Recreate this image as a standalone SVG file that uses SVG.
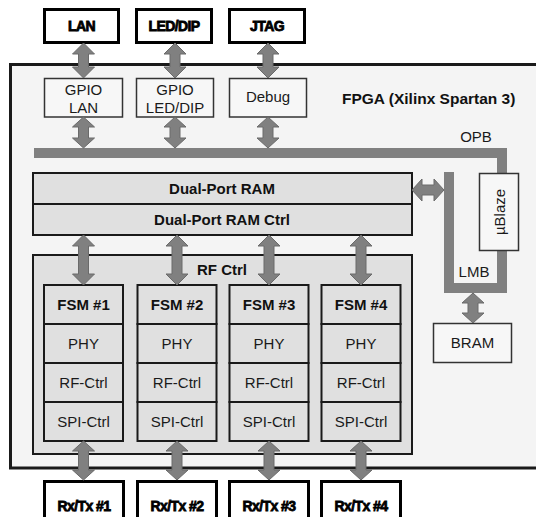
<svg xmlns="http://www.w3.org/2000/svg" width="536" height="517" viewBox="0 0 536 517">
<style>
  .ext {fill:#ffffff; stroke:#000; stroke-width:3}
  .blk {fill:#f7f7f7; stroke:#333; stroke-width:1.5}
  .gray {fill:#e0e0e0; stroke:#1a1a1a; stroke-width:2}
  .arrow {fill:#808080; stroke:#6a6a6a; stroke-width:1}
  .bus {fill:#808080}
  text {font-family:"Liberation Sans", Arial, sans-serif; font-size:15px; fill:#1a1a1a; text-anchor:middle}
  .b {font-weight:bold; fill:#111}
  .heavy {font-weight:bold; font-size:14px; fill:#000; stroke:#000; stroke-width:0.8; letter-spacing:-0.6px}
</style>

<g id="fpga">
  <rect x="10.5" y="64.5" width="540" height="403.5" fill="#f4f4f4" stroke="#1a1a1a" stroke-width="3"/>
  <text class="b" x="342" y="104" style="text-anchor:start;font-size:15.5px">FPGA (Xilinx Spartan 3)</text>
</g>

<g id="buses">
  <path class="bus" d="M34,148 H507 V174 H497 V158 H34 Z"/>
  <path class="bus" d="M497,250 H507 V293 H444 V172 H454 V283 H497 Z"/>
  <text x="476" y="142">OPB</text>
  <text x="474" y="277">LMB</text>
</g>

<g id="lan"><rect class="ext" x="44.5" y="9.5" width="74" height="33"/><text class="heavy" x="81.5" y="31">LAN</text></g>
<g id="leddip"><rect class="ext" x="136.5" y="9.5" width="75" height="33"/><text class="heavy" x="174" y="31">LED/DIP</text></g>
<g id="jtag"><rect class="ext" x="229.5" y="9.5" width="75" height="33"/><text class="heavy" x="267" y="31">JTAG</text></g>

<g id="gpio-lan"><rect class="blk" x="44.5" y="78.5" width="78" height="38.5"/><text x="83.5" y="95">GPIO</text><text x="83.5" y="113">LAN</text></g>
<g id="gpio-leddip"><rect class="blk" x="136.5" y="78.5" width="77" height="38.5"/><text x="175" y="95">GPIO</text><text x="175" y="113">LED/DIP</text></g>
<g id="debug"><rect class="blk" x="229.5" y="78.5" width="77" height="38.5"/><text x="268" y="102">Debug</text></g>

<g id="dpram">
  <rect class="gray" x="33" y="173" width="379" height="31"/>
  <text class="b" x="222" y="194">Dual-Port RAM</text>
</g>
<g id="dpram-ctrl">
  <rect class="gray" x="33" y="204" width="379" height="31"/>
  <text class="b" x="222" y="225">Dual-Port RAM Ctrl</text>
</g>

<g id="ublaze">
  <rect class="blk" x="479.5" y="173.5" width="39" height="77"/>
  <text transform="translate(504.5,212) rotate(-90)" x="0" y="0">µBlaze</text>
</g>
<g id="bram"><rect class="blk" x="433.5" y="323.5" width="78" height="39"/><text x="472.5" y="348">BRAM</text></g>

<g id="rf-ctrl">
  <rect class="gray" x="33" y="255" width="379" height="199"/>
  <text class="b" x="222" y="275">RF Ctrl</text>
</g>

<g id="fsm1">
  <rect class="gray" x="44" y="285" width="79" height="39"/><text class="b" x="83.5" y="310">FSM #1</text>
  <rect class="gray" x="44" y="324" width="79" height="39"/><text x="83.5" y="349">PHY</text>
  <rect class="gray" x="44" y="363" width="79" height="39"/><text x="83.5" y="388">RF-Ctrl</text>
  <rect class="gray" x="44" y="402" width="79" height="39"/><text x="83.5" y="427">SPI-Ctrl</text>
</g>
<g id="fsm2">
  <rect class="gray" x="137.5" y="285" width="79" height="39"/><text class="b" x="177" y="310">FSM #2</text>
  <rect class="gray" x="137.5" y="324" width="79" height="39"/><text x="177" y="349">PHY</text>
  <rect class="gray" x="137.5" y="363" width="79" height="39"/><text x="177" y="388">RF-Ctrl</text>
  <rect class="gray" x="137.5" y="402" width="79" height="39"/><text x="177" y="427">SPI-Ctrl</text>
</g>
<g id="fsm3">
  <rect class="gray" x="229.5" y="285" width="79" height="39"/><text class="b" x="269" y="310">FSM #3</text>
  <rect class="gray" x="229.5" y="324" width="79" height="39"/><text x="269" y="349">PHY</text>
  <rect class="gray" x="229.5" y="363" width="79" height="39"/><text x="269" y="388">RF-Ctrl</text>
  <rect class="gray" x="229.5" y="402" width="79" height="39"/><text x="269" y="427">SPI-Ctrl</text>
</g>
<g id="fsm4">
  <rect class="gray" x="321.5" y="285" width="79" height="39"/><text class="b" x="361" y="310">FSM #4</text>
  <rect class="gray" x="321.5" y="324" width="79" height="39"/><text x="361" y="349">PHY</text>
  <rect class="gray" x="321.5" y="363" width="79" height="39"/><text x="361" y="388">RF-Ctrl</text>
  <rect class="gray" x="321.5" y="402" width="79" height="39"/><text x="361" y="427">SPI-Ctrl</text>
</g>

<g id="rxtx1"><rect class="ext" x="44.5" y="481.5" width="79" height="50"/><text class="heavy" x="84" y="511">Rx/Tx #1</text></g>
<g id="rxtx2"><rect class="ext" x="137.5" y="481.5" width="79" height="50"/><text class="heavy" x="177" y="511">Rx/Tx #2</text></g>
<g id="rxtx3"><rect class="ext" x="229.5" y="481.5" width="79" height="50"/><text class="heavy" x="269" y="511">Rx/Tx #3</text></g>
<g id="rxtx4"><rect class="ext" x="321.5" y="481.5" width="79" height="50"/><text class="heavy" x="361" y="511">Rx/Tx #4</text></g>

<g id="connectors">
  <path class="arrow" d="M83.5,43 L94.5,54 L88.5,54 L88.5,67 L94.5,67 L83.5,78 L72.5,67 L78.5,67 L78.5,54 L72.5,54 Z"/>
  <path class="arrow" d="M175,43 L186,54 L180,54 L180,67 L186,67 L175,78 L164,67 L170,67 L170,54 L164,54 Z"/>
  <path class="arrow" d="M268,43 L279,54 L273,54 L273,67 L279,67 L268,78 L257,67 L263,67 L263,54 L257,54 Z"/>
  <path class="arrow" d="M83.5,117 L94.5,127 L88.5,127 L88.5,138 L94.5,138 L83.5,148 L72.5,138 L78.5,138 L78.5,127 L72.5,127 Z"/>
  <path class="arrow" d="M175,117 L186,127 L180,127 L180,138 L186,138 L175,148 L164,138 L170,138 L170,127 L164,127 Z"/>
  <path class="arrow" d="M268,117 L279,127 L273,127 L273,138 L279,138 L268,148 L257,138 L263,138 L263,127 L257,127 Z"/>
  <path class="arrow" d="M83.5,235 L94.5,246 L88.5,246 L88.5,274 L94.5,274 L83.5,285 L72.5,274 L78.5,274 L78.5,246 L72.5,246 Z"/>
  <path class="arrow" d="M177,235 L188,246 L182,246 L182,274 L188,274 L177,285 L166,274 L172,274 L172,246 L166,246 Z"/>
  <path class="arrow" d="M269,235 L280,246 L274,246 L274,274 L280,274 L269,285 L258,274 L264,274 L264,246 L258,246 Z"/>
  <path class="arrow" d="M361,235 L372,246 L366,246 L366,274 L372,274 L361,285 L350,274 L356,274 L356,246 L350,246 Z"/>
  <path class="arrow" d="M83.5,441 L94.5,451 L88.5,451 L88.5,470 L94.5,470 L83.5,480 L72.5,470 L78.5,470 L78.5,451 L72.5,451 Z"/>
  <path class="arrow" d="M177,441 L188,451 L182,451 L182,470 L188,470 L177,480 L166,470 L172,470 L172,451 L166,451 Z"/>
  <path class="arrow" d="M269,441 L280,451 L274,451 L274,470 L280,470 L269,480 L258,470 L264,470 L264,451 L258,451 Z"/>
  <path class="arrow" d="M361,441 L372,451 L366,451 L366,470 L372,470 L361,480 L350,470 L356,470 L356,451 L350,451 Z"/>
  <path class="arrow" d="M473,293 L484,303 L478,303 L478,313 L484,313 L473,323 L462,313 L468,313 L468,303 L462,303 Z"/>
  <path class="arrow" d="M412,190 L422,179 L422,185 L434,185 L434,179 L444,190 L434,201 L434,195 L422,195 L422,201 Z"/>
</g>
</svg>
